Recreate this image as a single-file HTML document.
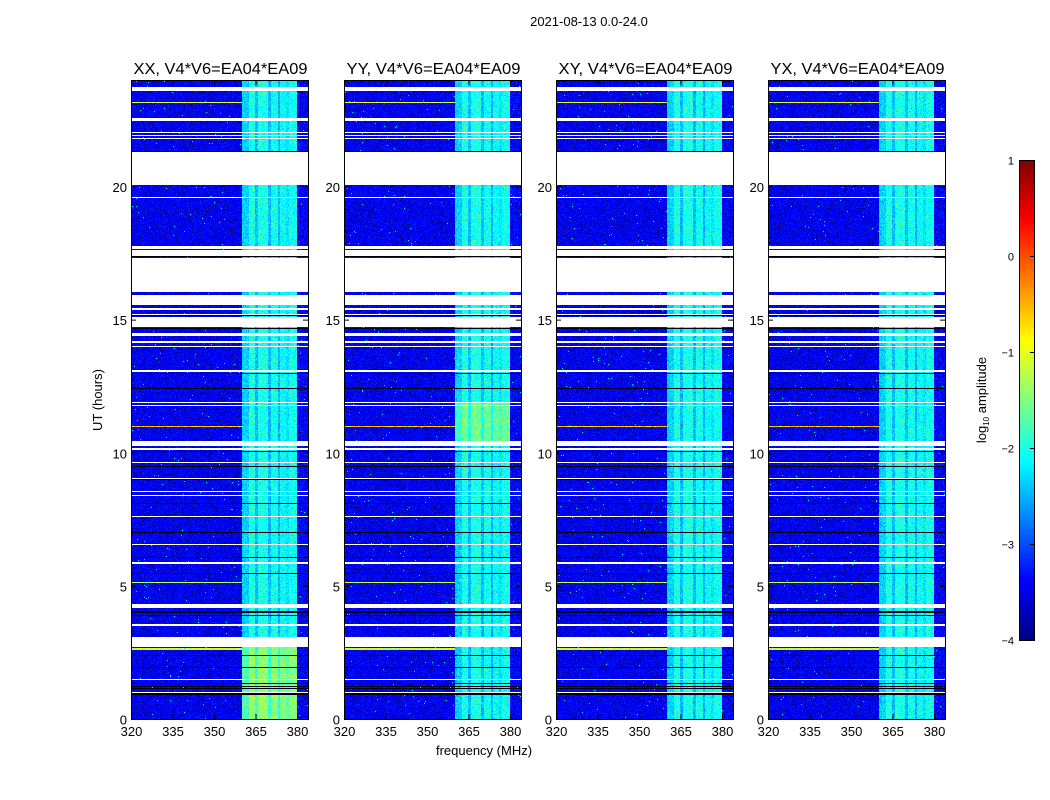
<!DOCTYPE html>
<html><head><meta charset="utf-8"><style>
html,body{margin:0;padding:0;background:#fff;width:1050px;height:800px;overflow:hidden;font-family:"Liberation Sans",sans-serif}
canvas{position:absolute;image-rendering:pixelated}
svg{position:absolute;left:0;top:0}
</style></head><body>
<div id="wrap"></div>
<script>
// ---- data (hours / MHz / log10 amplitude) ----
const panelTitles=["XX, V4*V6=EA04*EA09","YY, V4*V6=EA04*EA09","XY, V4*V6=EA04*EA09","YX, V4*V6=EA04*EA09"];
const xTicks=[320,335,350,365,380];
const yTicks=[0,5,10,15,20];
const cbTicks=[1,0,-1,-2,-3,-4];
const freqSegStart=[320,360,362.5,365,366,369.5,370.5,373,373.8,376,377,380];
const freqSegLevel=[-3.4,-2.35,-2.0,-2.45,-2.0,-2.45,-2.05,-2.5,-2.1,-2.25,-2.05,-3.35];
const flagStart=[23.60,22.46,22.02,21.90,21.78,20.06,19.55,17.65,17.39,16.04,15.55,15.38,15.19,14.72,14.38,14.12,13.97,13.05,11.85,11.74,10.25,10.12,9.63,9.03,8.51,8.39,7.60,6.55,5.84,4.17,3.51,2.70,1.48,0.99];
const flagEnd  =[23.75,22.57,22.05,21.93,21.82,21.31,19.59,17.76,17.61,17.31,15.92,15.42,15.23,15.10,14.50,14.20,14.01,13.09,11.89,11.78,10.44,10.16,9.67,9.07,8.55,8.43,7.64,6.59,5.88,4.32,3.55,3.08,1.52,1.03];
const blackRows=[21.33,17.37,15.14,14.65,12.96,12.43,10.03,9.48,8.98,8.08,7.02,6.08,5.48,4.02,3.87,2.37,1.92,1.35,1.22,1.13,0.94];
const rfiRows=[23.14,11.0,5.11,2.63];
const rfiLevel=[-1.0,-0.6,-1.2,-1.1];
const boostStart=[[0,-1],[10.44,-1],[-1,-1],[-1,-1]];
const boostEnd=[[2.7,-1],[11.9,-1],[-1,-1],[-1,-1]];
const boostLevel=[0.6,0.45,0,0];
// ---- layout ----
const panelX=[131,344,556,768], PW=177, PT=80, PB=719;
const xs=f=>(f-320)*166/60;
const ys=t=>PB-t*(PB-PT)/24;
const fOfPx=px=>320+px*60/166;
const tOfPy=py=>(PB-py)*24/(PB-PT);
function jet(v){let x=(v+4)/5;x=Math.max(0,Math.min(1,x));const c=a=>Math.round(255*Math.max(0,Math.min(1,1.5-Math.abs(4*x-a))));return[c(3),c(2),c(1)];}
function hash(a,b,c){let h=(a*374761393+b*668265263+c*2147483647)|0;h=(h^(h>>>13))*1274126177|0;return((h^(h>>>16))>>>0)/4294967295;}
function freqLevel(f){let l=freqSegLevel[0];for(let i=0;i<freqSegStart.length;i++)if(f>=freqSegStart[i])l=freqSegLevel[i];return l;}
const wrap=document.getElementById('wrap');
panelX.forEach((px,p)=>{
  const cv=document.createElement('canvas');cv.width=PW;cv.height=PB-PT;
  cv.style.left=px+'px';cv.style.top=PT+'px';
  
  
  const ctx=cv.getContext('2d');const img=ctx.createImageData(PW,PB-PT);
  for(let y=0;y<PB-PT;y++){const t=tOfPy(y+PT+0.5);
    let flag=false;for(let i=0;i<flagStart.length;i++)if(t>=flagStart[i]&&t<=flagEnd[i])flag=true;
    let blk=false;for(const b of blackRows)if(Math.abs(t-b)<0.02)blk=true;
    let rfi=null;rfiRows.forEach((r,i)=>{if(Math.abs(t-r)<0.02)rfi=rfiLevel[i];});
    let boost=0;for(let k=0;k<2;k++)if(t>=boostStart[p][k]&&t<=boostEnd[p][k])boost=boostLevel[p];
    for(let x=0;x<PW;x++){const i=4*(y*PW+x);const f=fOfPx(x+0.5);let col;
      if(flag)col=[255,255,255];else if(blk)col=[0,0,20];else{
        let lv=freqLevel(f);const inBand=lv>-3;if(inBand)lv+=boost;
        const n=(hash(x,y,p)+hash(x+7,y*3,p+11))/2-0.5;
        lv+=n*(inBand?0.7:0.5);
        if(!inBand&&hash(x*3,y*5,p+5)>0.85)lv-=0.45;
        if(rfi!==null&&!inBand&&f<360)lv=rfi+n*0.8;
        if(!inBand&&hash(x*5,y,p+3)>0.996)lv=-2.2;
        col=jet(lv);}
      img.data[i]=col[0];img.data[i+1]=col[1];img.data[i+2]=col[2];img.data[i+3]=255;}}
  ctx.putImageData(img,0,0);wrap.appendChild(cv);
});
const cb=document.createElement('canvas');cb.width=15;cb.height=480;cb.style.left='1019px';cb.style.top='160px';


const cctx=cb.getContext('2d');for(let y=0;y<480;y++){const c=jet(1-5*y/480);cctx.fillStyle=`rgb(${c})`;cctx.fillRect(0,y,15,1);}
wrap.appendChild(cb);
const NS='http://www.w3.org/2000/svg';
const svg=document.createElementNS(NS,'svg');svg.setAttribute('width',1050);svg.setAttribute('height',800);
wrap.appendChild(svg);
function el(tag,attrs,txt){const e=document.createElementNS(NS,tag);for(const k in attrs)e.setAttribute(k,attrs[k]);if(txt!==undefined)e.textContent=txt;svg.appendChild(e);return e;}
let e=el('text',{x:589,y:26,'font-size':13,'text-anchor':'middle'},'2021-08-13 0.0-24.0');


panelX.forEach((px,p)=>{
  let r=el('rect',{x:px+0.5,y:PT+0.5,width:PW,height:PB-PT,fill:'none',stroke:'#000','stroke-width':1});
  
  
  let t=el('text',{x:px+PW/2+1,y:74,'font-size':16,'text-anchor':'middle',textLength:174,lengthAdjust:'spacingAndGlyphs'},panelTitles[p]);
  
  
  xTicks.forEach(v=>{const X=px+xs(v)+0.5;
    el('line',{x1:X,x2:X,y1:PB,y2:PB-5,stroke:'#000'});el('line',{x1:X,x2:X,y1:PT,y2:PT+5,stroke:'#000'});
    const l=el('text',{x:X,y:PB+17,'font-size':13,'text-anchor':'middle'},String(v));
    
    });
  yTicks.forEach(v=>{const Y=ys(v)+0.5;
    el('line',{x1:px,x2:px+5,y1:Y,y2:Y,stroke:'#000'});el('line',{x1:px+PW,x2:px+PW-5,y1:Y,y2:Y,stroke:'#000'});
    const l=el('text',{x:px-4,y:Y+5,'font-size':13,'text-anchor':'end'},String(v));
    
    });
});
e=el('text',{x:484,y:755,'font-size':13,'text-anchor':'middle'},'frequency (MHz)');


e=el('text',{x:0,y:0,'font-size':13,'text-anchor':'middle',transform:'translate(102,400) rotate(-90)'},'UT (hours)');


el('rect',{x:1019.5,y:160.5,width:15,height:480,fill:'none',stroke:'#000'});
cbTicks.forEach(v=>{const Y=160+(1-v)*96+0.5;
  el('line',{x1:1030,x2:1035,y1:Y,y2:Y,stroke:'#000'});
  const l=el('text',{x:1014,y:Y+4,'font-size':11,'text-anchor':'end'},v<0?'\u2212'+(-v):String(v));
  
  });
e=el('text',{x:0,y:0,'font-size':13,'text-anchor':'middle',transform:'translate(986,400) rotate(-90)'});


e.innerHTML='log<tspan font-size="8" dy="3">10</tspan><tspan dy="-3"> amplitude</tspan>';
</script>
</body></html>
